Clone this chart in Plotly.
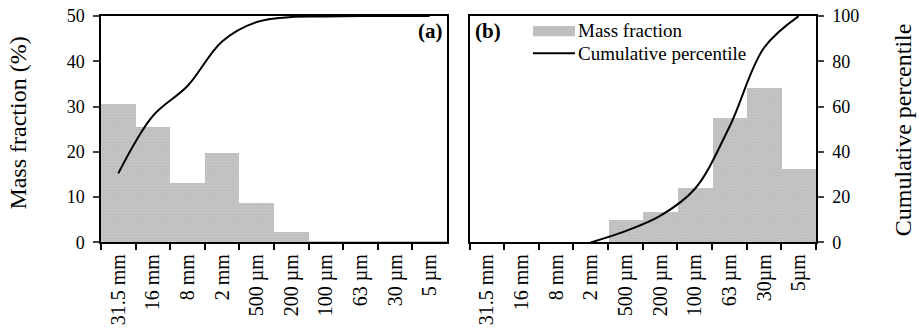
import plotly.graph_objects as go

# Particle size classes (coarse -> fine)
sizes_a = ["31.5 mm", "16 mm", "8 mm", "2 mm", "500 µm", "200 µm",
           "100 µm", "63 µm", "30 µm", "5 µm"]
sizes_b = ["31.5 mm", "16 mm", "8 mm", "2 mm", "500 µm", "200 µm",
           "100 µm", "63 µm", "30µm", "5µm"]

# (a) mass fraction (%) and cumulative percentile
mass_a = [30.5, 25.4, 13.2, 19.7, 8.6, 2.2, 0.3, 0.3, 0.3, 0.3]
cum_a = [30.5, 55.9, 69.1, 88.8, 97.4, 99.6, 99.8, 100, 100, 100]

# (b) mass fraction (%) and cumulative percentile
mass_b = [0, 0, 0, 0, 5.0, 6.7, 11.9, 27.5, 34.2, 16.2]
cum_b_x = ["2 mm", "500 µm", "200 µm", "100 µm", "63 µm", "30µm", "5µm"]
cum_b = [0, 5.0, 11.7, 23.6, 51.0, 86.0, 100]

FONT = "Liberation Serif, Times New Roman, serif"
GREY = "#bfbfbf"
bar_pattern = dict(shape=".", fgcolor="#d4d4d4", bgcolor=GREY, size=3, solidity=0.25)

fig = go.Figure()
fig.add_trace(go.Bar(x=sizes_a, y=mass_a, xaxis="x", yaxis="y",
                     marker=dict(color=GREY, line=dict(width=0), pattern=bar_pattern),
                     showlegend=False))
fig.add_trace(go.Scatter(x=sizes_a, y=cum_a, xaxis="x", yaxis="y2", mode="lines",
                         line=dict(color="black", width=2, shape="spline"),
                         showlegend=False))
fig.add_trace(go.Bar(x=sizes_b, y=mass_b, xaxis="x2", yaxis="y3",
                     marker=dict(color=GREY, line=dict(width=0), pattern=bar_pattern),
                     showlegend=False))
fig.add_trace(go.Scatter(x=cum_b_x, y=cum_b, xaxis="x2", yaxis="y4", mode="lines",
                         line=dict(color="black", width=2, shape="spline"),
                         showlegend=False))

W, H = 919, 328
ydom = [1 - 247.5 / H, 1 - 6.5 / H]

xcommon = dict(type="category", tickson="boundaries", ticks="outside", ticklen=6,
               tickwidth=1.5, tickcolor="black", showline=True, linecolor="black",
               linewidth=1.5, mirror=True, tickangle=-90, showgrid=False,
               ticklabelstandoff=2,
               tickfont=dict(family=FONT, size=20, color="black"), range=[-0.5, 9.5])
ycommon = dict(showline=True, linecolor="black", linewidth=1.5, showgrid=False,
               zeroline=False, ticklabeloverflow="allow",
               tickfont=dict(family=FONT, size=18, color="black"))

fig.update_layout(
    width=W, height=H,
    margin=dict(l=0, r=0, t=0, b=0),
    paper_bgcolor="white", plot_bgcolor="white",
    bargap=0,
    font=dict(family=FONT, color="black"),
    xaxis=dict(domain=[101 / W, 447 / W], anchor="y", categoryarray=sizes_a, **xcommon),
    yaxis=dict(domain=ydom, anchor="x", range=[0, 50], dtick=10, ticks="outside",
               ticklen=6, tickwidth=1.5, mirror=True, ticklabelstandoff=5, **ycommon),
    yaxis2=dict(overlaying="y", anchor="x", range=[0, 100], visible=False),
    xaxis2=dict(domain=[469.5 / W, 816 / W], anchor="y3", categoryarray=sizes_b, **xcommon),
    yaxis3=dict(domain=ydom, anchor="x2", range=[0, 50], showticklabels=False,
                ticks="", mirror=True, **ycommon),
    yaxis4=dict(overlaying="y3", anchor="x2", side="right", range=[0, 100], dtick=20,
                ticks="outside", ticklen=6, tickwidth=1.5, ticklabelstandoff=5, **ycommon),
)

# legend drawn by hand (wide swatches as in the original)
fig.add_shape(type="rect", xref="paper", yref="paper",
              x0=533 / W, x1=575 / W, y0=1 - 28 / H, y1=1 - 17 / H,
              fillcolor=GREY, line=dict(width=0))
fig.add_shape(type="line", xref="paper", yref="paper",
              x0=533 / W, x1=575 / W, y0=1 - 46 / H, y1=1 - 46 / H,
              line=dict(color="black", width=2))
fig.add_annotation(text="Mass fraction", xref="paper", yref="paper",
                   x=576 / W, y=1 - 22 / H, xanchor="left", yanchor="middle",
                   showarrow=False, font=dict(family=FONT, size=19))
fig.add_annotation(text="Cumulative percentile", xref="paper", yref="paper",
                   x=576 / W, y=1 - 46 / H, xanchor="left", yanchor="middle",
                   showarrow=False, font=dict(family=FONT, size=19))

# panel tags
fig.add_annotation(text="<b>(a)</b>", xref="paper", yref="paper",
                   x=445 / W, y=1 - 22 / H, xanchor="right", yanchor="middle",
                   showarrow=False, font=dict(family=FONT, size=21))
fig.add_annotation(text="<b>(b)</b>", xref="paper", yref="paper",
                   x=473 / W, y=1 - 22 / H, xanchor="left", yanchor="middle",
                   showarrow=False, font=dict(family=FONT, size=21))

# axis titles
fig.add_annotation(text="Mass fraction (%)", xref="paper", yref="paper",
                   x=18 / W, y=1 - 121 / H, xanchor="center", yanchor="middle",
                   textangle=-90, showarrow=False, font=dict(family=FONT, size=24))
fig.add_annotation(text="Cumulative percentile", xref="paper", yref="paper",
                   x=903 / W, y=1 - 128 / H, xanchor="center", yanchor="middle",
                   textangle=-90, showarrow=False, font=dict(family=FONT, size=24))

fig.write_html("out.html", config={"displayModeBar": False},
               post_script="document.body.style.margin='0';")
